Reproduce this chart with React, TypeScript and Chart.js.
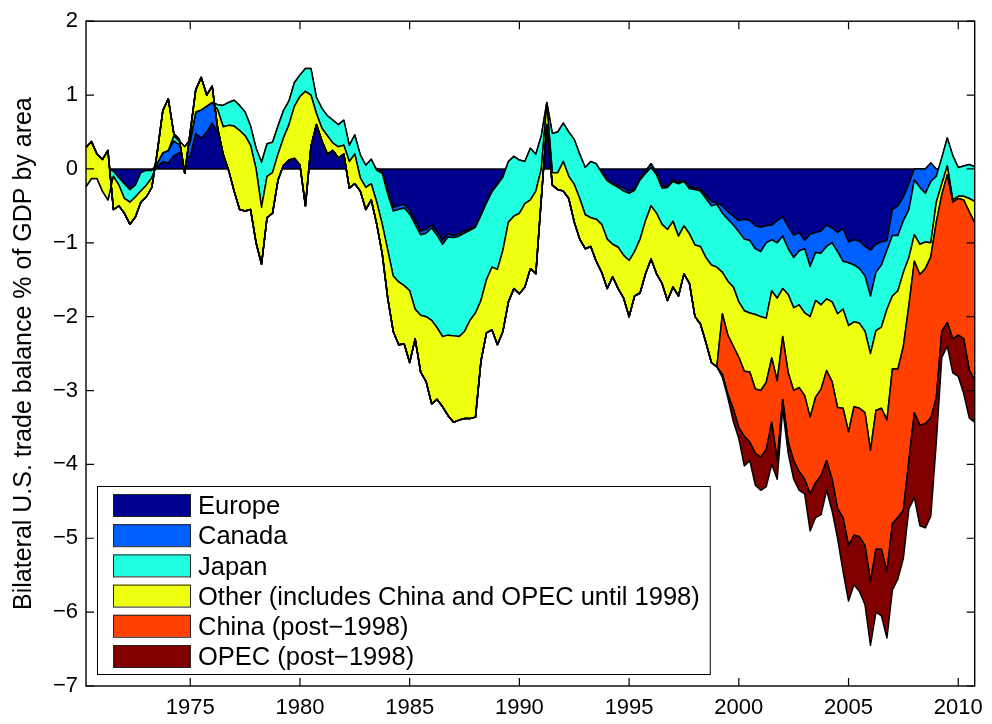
import React, { useEffect, useRef } from "react";
import { Chart, registerables } from "chart.js";

Chart.register(...registerables);

// ---- data (quarterly) ----
const firstQuarter = 1970.25;
const quarterStep = 0.25;
const chinaOpecFrom = 1999.0;

// Stacked edges (cumulative % of GDP) at the outer side of each area, MATLAB area() style
const edgeEurope = [
  0.05, 0.05, 0.05, 0.0, 0.0, -0.03, -0.12, -0.2, -0.28, -0.22,
  -0.15, -0.1, -0.05, 0.03, 0.1, 0.08, 0.18, 0.22, 0.12, 0.18,
  0.48, 0.42, 0.5, 0.62, 0.5, 0.45, 0.4, 0.4, 0.4, 0.4,
  0.35, 0.2, 0.1, 0.2, 0.25, 0.4, 0.55, 0.65, 0.8, 0.9,
  1.0, 0.9, 0.65, 0.5, 0.45, 0.4, 0.4, 0.38, 0.3, 0.3,
  0.15, 0.05, 0.05, 0.0, -0.03, -0.3, -0.52, -0.5, -0.48, -0.56,
  -0.7, -0.84, -0.82, -0.76, -0.85, -0.97, -0.88, -0.9, -0.88, -0.84,
  -0.81, -0.78, -0.62, -0.45, -0.3, -0.2, -0.1, 0.05, 0.05, 0.05,
  0.05, 0.05, 0.05, 0.05, 0.82, 0.0, 0.0, 0.0, 0.0, 0.0,
  0.0, 0.0, 0.0, 0.0, -0.03, -0.15, -0.2, -0.23, -0.26, -0.3,
  -0.27, -0.13, -0.03, 0.07, -0.05, -0.24, -0.23, -0.15, -0.18, -0.16,
  -0.24, -0.26, -0.27, -0.36, -0.44, -0.46, -0.5, -0.58, -0.64, -0.7,
  -0.68, -0.7, -0.77, -0.79, -0.77, -0.76, -0.7, -0.65, -0.78, -0.9,
  -0.86, -0.97, -0.88, -0.86, -0.84, -0.76, -0.8, -0.86, -0.81, -0.99,
  -0.96, -0.98, -1.05, -1.1, -1.02, -0.99, -0.97, -0.55, -0.5, -0.38,
  -0.2, 0.0, 0.0, 0.0, 0.08, 0.0, 0.0, 0.0, 0.0, 0.0,
  0.0, 0.0, 0.0,
];

const edgeCanada = [
  0.05, 0.05, 0.05, 0.0, 0.0, -0.03, -0.12, -0.2, -0.28, -0.22,
  -0.05, -0.02, -0.02, 0.08, 0.22, 0.25, 0.38, 0.33, 0.25, 0.37,
  0.77, 0.8, 0.85, 0.9, 0.87, 0.86, 0.9, 0.93, 0.86, 0.77,
  0.58, 0.28, 0.09, 0.34, 0.36, 0.58, 0.79, 0.92, 1.17, 1.27,
  1.36, 1.36, 0.97, 0.82, 0.72, 0.66, 0.6, 0.66, 0.32, 0.46,
  0.19, 0.05, 0.13, -0.02, -0.06, -0.34, -0.57, -0.55, -0.53, -0.61,
  -0.75, -0.89, -0.87, -0.8, -0.9, -1.02, -0.92, -0.93, -0.91, -0.87,
  -0.83, -0.79, -0.63, -0.46, -0.31, -0.21, -0.11, 0.1, 0.17, 0.12,
  0.1, 0.28, 0.2, 0.45, 0.9, 0.48, 0.5, 0.62, 0.5, 0.4,
  0.2, 0.02, 0.1, 0.07, -0.05, -0.16, -0.21, -0.25, -0.3, -0.33,
  -0.29, -0.15, -0.06, 0.02, -0.08, -0.26, -0.25, -0.17, -0.2, -0.17,
  -0.27, -0.28, -0.3, -0.4, -0.5, -0.48, -0.6, -0.68, -0.76, -0.85,
  -0.95, -0.97, -1.08, -1.12, -1.0, -0.96, -1.0, -0.91, -1.08, -1.2,
  -1.11, -1.08, -1.32, -1.13, -1.14, -1.05, -1.0, -1.12, -1.25, -1.27,
  -1.3, -1.35, -1.45, -1.72, -1.4, -1.3, -1.1, -0.9, -0.9, -0.7,
  -0.55, -0.15, -0.25, -0.33, -0.17, -0.1, 0.15, 0.42, 0.18, 0.02,
  0.04, 0.06, 0.03,
];

const edgeJapan = [
  -0.24, -0.13, -0.13, -0.3, -0.42, -0.1, -0.22, -0.4, -0.45, -0.38,
  -0.3, -0.22, -0.12, 0.08, 0.22, 0.25, 0.45, 0.38, 0.3, 0.4,
  0.77, 0.8, 0.85, 0.9, 0.8, 0.57, 0.59, 0.58, 0.52, 0.45,
  0.32, 0.0, -0.52, -0.1, -0.05, 0.2, 0.42, 0.6, 0.85, 0.98,
  1.05, 1.0, 0.75, 0.55, 0.45, 0.35, 0.3, 0.32, 0.1, 0.2,
  -0.12, -0.25, -0.2, -0.45, -0.75, -1.1, -1.45, -1.53, -1.58, -1.65,
  -1.9, -1.98, -2.0, -2.05, -2.15, -2.27, -2.25, -2.26, -2.27, -2.2,
  -2.05, -1.95, -1.78, -1.5, -1.33, -1.36, -1.1, -0.72, -0.64, -0.6,
  -0.47, -0.42, -0.3, 0.0, 0.88, -0.05, -0.05, 0.1, -0.1, -0.21,
  -0.4, -0.62, -0.66, -0.68, -0.75, -0.95, -1.02, -1.06, -1.17, -1.24,
  -1.12, -0.95, -0.7, -0.5, -0.6, -0.75, -0.82, -0.71, -0.91, -0.77,
  -0.88, -1.03, -1.05, -1.2, -1.3, -1.33, -1.4, -1.52, -1.6, -1.8,
  -1.92, -1.95, -1.97, -2.0, -2.02, -1.65, -1.75, -1.62, -1.7, -1.88,
  -1.84, -1.95, -2.0, -1.78, -1.84, -1.76, -1.8, -1.96, -1.9, -2.12,
  -2.07, -2.09, -2.2, -2.5, -2.19, -2.14, -1.9, -1.72, -1.65, -1.4,
  -1.2, -0.89, -1.02, -0.99, -1.0, -0.45, -0.2, 0.04, -0.42, -0.37,
  -0.37, -0.4, -0.44,
];

const edgeOther = [
  0.29, 0.37, 0.2, 0.13, 0.25, -0.55, -0.5, -0.6, -0.75, -0.65,
  -0.45, -0.38, -0.25, 0.23, 0.79, 0.95, 0.48, 0.4, -0.06, 0.5,
  1.07, 1.24, 1.0, 1.12, 0.55, 0.2, -0.02, -0.3, -0.55, -0.57,
  -0.55, -1.0, -1.29, -0.66, -0.6, -0.15, 0.05, 0.12, 0.14, 0.05,
  -0.5, 0.3, 0.6, 0.38, 0.2, 0.25, 0.15, 0.2, -0.26, -0.2,
  -0.3, -0.55, -0.42, -0.75, -1.15, -1.75, -2.2, -2.38, -2.37, -2.62,
  -2.3, -2.75, -2.88, -3.18, -3.12, -3.22, -3.34, -3.43, -3.4, -3.38,
  -3.38, -3.36, -2.6, -2.22, -2.18, -2.38, -2.2, -1.8, -1.62, -1.69,
  -1.6, -1.35, -1.42, -0.4, 0.6, -0.22, -0.28, -0.3, -0.4, -0.72,
  -0.95, -1.08, -1.05, -1.25, -1.4, -1.62, -1.46, -1.62, -1.75, -2.0,
  -1.72, -1.68, -1.42, -1.22, -1.42, -1.55, -1.78, -1.6, -1.72, -1.42,
  -1.55, -2.0, -2.1, -2.35, -2.62, -2.68, -1.96, -2.25, -2.4, -2.55,
  -2.74, -2.75, -2.98, -3.0, -2.89, -2.56, -2.87, -2.27, -2.76, -3.0,
  -2.96, -3.07, -3.36, -3.09, -2.98, -2.73, -2.88, -3.23, -3.24, -3.56,
  -3.22, -3.24, -3.3, -3.81, -3.27, -3.24, -3.4, -2.71, -2.71, -2.4,
  -1.85, -1.25, -1.43, -1.35, -1.19, -0.72, -0.35, -0.08, -0.45, -0.4,
  -0.42, -0.58, -0.73,
];

// from 1999.0 onwards
const edgeChina = [
  -2.68, -2.78, -3.05, -3.25, -3.5,
  -3.62, -3.7, -3.85, -3.9, -3.8, -3.43, -3.95, -3.12, -3.7, -3.95,
  -4.1, -4.2, -4.4, -4.25, -4.15, -3.95, -4.2, -4.6, -4.72, -5.1,
  -4.96, -4.98, -5.1, -5.58, -5.15, -5.15, -5.45, -4.8, -4.72, -4.62,
  -3.95, -3.3, -3.47, -3.45, -3.37, -3.1, -2.2, -2.08, -2.3, -2.25,
  -2.3, -2.72, -2.86,
];

const edgeOpec = [
  -2.68, -2.82, -3.1, -3.42, -3.65,
  -4.02, -3.95, -4.28, -4.35, -4.3, -4.0, -4.2, -3.25, -3.85, -4.2,
  -4.35, -4.4, -4.9, -4.72, -4.68, -4.35, -4.63, -5.0, -5.45, -5.85,
  -5.63, -5.72, -5.9, -6.45, -6.0, -6.05, -6.35, -5.7, -5.55, -5.27,
  -4.6, -4.45, -4.83, -4.86, -4.7, -3.7, -2.55, -2.4, -2.76, -2.81,
  -3.04, -3.37, -3.43,
];

const areaLabels = [
  "Europe",
  "Canada",
  "Japan",
  "Other (includes China and OPEC until 1998)",
  "China (post\u22121998)",
  "OPEC (post\u22121998)",
];
const areaColors = [
  "rgb(0,0,143)",
  "rgb(0,96,255)",
  "rgb(32,255,223)",
  "rgb(239,255,16)",
  "rgb(255,64,0)",
  "rgb(128,0,0)",
];
const xTickValues = [1975, 1980, 1985, 1990, 1995, 2000, 2005, 2010];
const yTickValues = [-7, -6, -5, -4, -3, -2, -1, 0, 1, 2];
const yTitle = "Bilateral U.S. trade balance % of GDP by area";

const FONT = '"Liberation Sans", Arial, Helvetica, sans-serif';
const TICK_SIZE = 22;
const LEGEND_SIZE = 25.5;
const TITLE_SIZE = 25;

function buildLevels(): number[][] {
  const start = Math.round((chinaOpecFrom - firstQuarter) / quarterStep);
  const china = edgeOther.map((v, i) => (i < start ? v : edgeChina[i - start]));
  const opec = edgeOther.map((v, i) => (i < start ? v : edgeOpec[i - start]));
  return [edgeEurope, edgeCanada, edgeJapan, edgeOther, china, opec];
}

const axesBoxPlugin = {
  id: "axesBox",
  afterDatasetsDraw(chart: any) {
    const { ctx, chartArea: ca, scales } = chart;
    ctx.save();
    ctx.strokeStyle = "#000";
    ctx.lineWidth = 1.4;
    ctx.strokeRect(ca.left, ca.top, ca.right - ca.left, ca.bottom - ca.top);
    const tl = 8;
    ctx.beginPath();
    for (const v of yTickValues) {
      const y = scales.y.getPixelForValue(v);
      ctx.moveTo(ca.left, y);
      ctx.lineTo(ca.left + tl, y);
      ctx.moveTo(ca.right, y);
      ctx.lineTo(ca.right - tl, y);
    }
    for (const v of xTickValues) {
      const x = scales.x.getPixelForValue(v);
      ctx.moveTo(x, ca.bottom);
      ctx.lineTo(x, ca.bottom - tl);
      ctx.moveTo(x, ca.top);
      ctx.lineTo(x, ca.top + tl);
    }
    ctx.lineWidth = 1.2;
    ctx.stroke();
    ctx.restore();
  },
};

const legendBoxPlugin = {
  id: "legendBox",
  afterDraw(chart: any) {
    const { ctx, chartArea: ca } = chart;
    ctx.save();
    ctx.font = `${LEGEND_SIZE}px ${FONT}`;
    const textW = Math.max(...areaLabels.map((t) => ctx.measureText(t).width));
    const boxLeft = ca.left + 11;
    const boxBottom = ca.bottom - 12;
    const boxH = 188;
    const boxTop = boxBottom - boxH;
    const swX = boxLeft + 16;
    const swW = 77;
    const swH = 22;
    const txtX = boxLeft + 101;
    const boxW = txtX - boxLeft + textW + 10;
    ctx.fillStyle = "#fff";
    ctx.fillRect(boxLeft, boxTop, boxW, boxH);
    ctx.strokeStyle = "#000";
    ctx.lineWidth = 1;
    ctx.strokeRect(boxLeft + 0.5, boxTop + 0.5, boxW, boxH);
    areaLabels.forEach((label, k) => {
      const cy = boxTop + 19 + k * 30.2;
      ctx.fillStyle = areaColors[k];
      ctx.fillRect(swX, cy - swH / 2, swW, swH);
      ctx.strokeStyle = "#222";
      ctx.strokeRect(swX + 0.5, cy - swH / 2 + 0.5, swW, swH);
      ctx.fillStyle = "#000";
      ctx.textBaseline = "alphabetic";
      ctx.textAlign = "left";
      ctx.fillText(label, txtX, cy + LEGEND_SIZE * 0.36);
    });
    ctx.restore();
  },
};

export default function App() {
  const canvasRef = useRef<HTMLCanvasElement>(null);

  useEffect(() => {
    document.body.style.margin = "0";
    const levels = buildLevels();
    const xs = levels[0].map((_, i) => firstQuarter + i * quarterStep);
    const pts = (arr: number[]) => arr.map((y, i) => ({ x: xs[i], y }));
    const base = {
      type: "line" as const,
      pointRadius: 0,
      pointHoverRadius: 0,
      borderColor: "#000",
      borderWidth: 1.5,
      tension: 0,
      borderJoinStyle: "round" as const,
    };
    const datasets: any[] = [];
    // Europe area (from zero) and its baseline edge
    datasets.push({ ...base, label: areaLabels[0], data: pts(levels[0]), fill: "origin", backgroundColor: areaColors[0] });
    datasets.push({ ...base, label: "baseline", data: pts(levels[0].map(() => 0)), fill: false });
    let prevArea = 0;
    for (let k = 1; k < levels.length; k++) {
      const idx = datasets.length;
      datasets.push({
        ...base,
        label: areaLabels[k],
        data: pts(levels[k]),
        fill: prevArea,
        backgroundColor: areaColors[k],
      });
      // redraw the shared edge of this patch on top of its fill
      datasets.push({ ...base, label: "edge" + k, data: pts(levels[k - 1]), fill: false });
      prevArea = idx;
    }
    const n = datasets.length;
    datasets.forEach((d, i) => (d.order = n - 1 - i));

    const chart = new Chart(canvasRef.current as HTMLCanvasElement, {
      type: "line",
      data: { datasets },
      options: {
        responsive: false,
        animation: false,
        events: [],
        parsing: false,
        normalized: true,
        layout: { padding: { left: 0, right: 15, top: 14, bottom: 0 } },
        plugins: {
          legend: { display: false },
          tooltip: { enabled: false },
        },
        scales: {
          x: {
            type: "linear",
            min: firstQuarter,
            max: firstQuarter + (edgeEurope.length - 1) * quarterStep,
            afterBuildTicks: (s: any) => {
              s.ticks = xTickValues.map((v) => ({ value: v }));
            },
            afterFit: (s: any) => {
              s.height = 38;
            },
            grid: { display: false, drawTicks: false },
            border: { display: false },
            ticks: {
              autoSkip: false,
              maxRotation: 0,
              padding: 9,
              color: "#000",
              font: { family: FONT, size: TICK_SIZE },
              callback: (v: any) => String(v),
            },
          },
          y: {
            type: "linear",
            min: -7,
            max: 2,
            afterBuildTicks: (s: any) => {
              s.ticks = yTickValues.map((v) => ({ value: v }));
            },
            afterFit: (s: any) => {
              s.width = 86;
            },
            grid: { display: false, drawTicks: false },
            border: { display: false },
            ticks: {
              padding: 8,
              color: "#000",
              font: { family: FONT, size: TICK_SIZE },
              callback: (v: any) => (v < 0 ? "\u2212" + Math.abs(v) : String(v)),
            },
            title: {
              display: true,
              text: yTitle,
              color: "#000",
              font: { family: FONT, size: TITLE_SIZE },
              padding: { top: 9, bottom: 0 },
            },
          },
        },
      },
      plugins: [axesBoxPlugin, legendBoxPlugin],
    } as any);
    return () => chart.destroy();
  }, []);

  return (
    <div style={{ position: "fixed", left: 0, top: 0, width: 992, height: 724, background: "#fff" }}>
      <canvas ref={canvasRef} width={992} height={724} style={{ display: "block", width: 992, height: 724 }} />
    </div>
  );
}
